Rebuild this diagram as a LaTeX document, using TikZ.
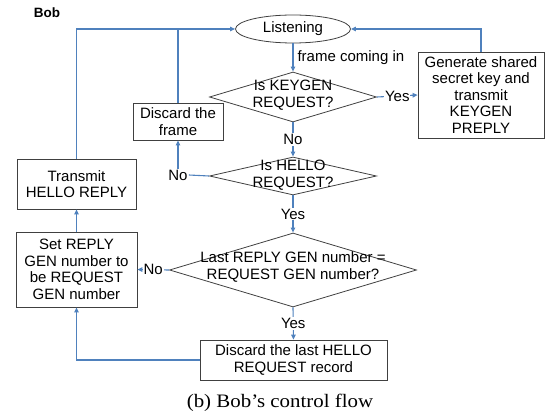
\documentclass[tikz,border=0pt]{standalone}
\usepackage{fontspec}
\setmainfont{Liberation Sans}
\newfontfamily\capfont{Liberation Serif}
\usetikzlibrary{shapes.geometric,arrows.meta}
\definecolor{flowblue}{HTML}{4F81BD}
\definecolor{boxline}{HTML}{404040}
\begin{document}
\begin{tikzpicture}[x=1pt,y=-1pt,
  every node/.style={font=\fontsize{15}{16.5}\selectfont, text=black},
  procbox/.style={draw=boxline, line width=0.8pt, rectangle, inner sep=0pt, align=center},
  decision/.style={draw=boxline, line width=0.8pt, diamond, inner sep=0pt},
  dtext/.style={align=center, inner sep=0pt},
  conn/.style={draw=flowblue, line width=1.1pt},
  arr/.style={conn, -{Triangle[length=5pt,width=4.5pt]}},
  lab/.style={fill=white, inner sep=1pt}
]
\useasboundingbox (0,0) rectangle (551,419);

\node[font=\fontsize{13.5}{15}\selectfont\bfseries] (bob) at (47,13) {Bob};

\node[draw=boxline, line width=0.8pt, ellipse, inner sep=0pt, minimum width=115, minimum height=28] (listen) at (293,29) {Listening};

\node[decision, minimum width=167, minimum height=50] (d1) at (293,97) {};
\node[dtext] (d1t) at (293,95) {Is KEYGEN\\REQUEST?};

\node[decision, minimum width=167, minimum height=38] (d2) at (293,176) {};
\node[dtext] (d2t) at (293,175) {Is HELLO\\REQUEST?};

\node[decision, minimum width=247, minimum height=74] (d3) at (293,270) {};
\node[dtext] (d3t) at (293,267) {Last REPLY GEN number =\\REQUEST GEN number?};

\node[procbox, minimum width=126, minimum height=86] (gen) at (481,95)
  {Generate shared\\secret key and\\transmit\\KEYGEN\\PREPLY};
\node[procbox, minimum width=90, minimum height=37] (discf) at (178,121.5)
  {Discard the\\frame};
\node[procbox, minimum width=119, minimum height=50] (trans) at (76.5,184)
  {Transmit\\HELLO REPLY};
\node[procbox, minimum width=121, minimum height=75] (setb) at (76.5,269.5)
  {Set REPLY\\GEN number to\\be REQUEST\\GEN number};
\node[procbox, minimum width=187, minimum height=40] (disl) at (293.5,360)
  {Discard the last HELLO\\REQUEST record};

% connectors
\draw[arr] (trans.north) |- (listen.west);
\draw[conn] (discf.north) -- (discf.north |- listen.west);
\draw[arr] (gen.north) |- (listen.east);
\draw[arr] (listen.south) -- node[right=4pt, inner sep=0pt] (fci) {frame coming in} (d1.north);
\draw[arr] (d1.east) -- node[lab] (y1) {Yes} (gen.west);
\draw[arr] (d1.south) -- node[lab] (n1) {No} (d2.north);
\node[inner sep=1pt] (n2) at (178,175) {No};
\draw[conn] (d2.west) -- (n2.east);
\draw[arr] (n2.north) -- (discf.south);
\draw[arr] (d2.south) -- node[lab] (y2) {Yes} (d3.north);
\draw[arr] (d3.west) -- node[lab] (n3) {No} (setb.east);
\draw[arr] (d3.south) -- node[lab] (y3) {Yes} (disl.north);
\draw[arr] (setb.north) -- (trans.south);
\draw[arr] (disl.west) -| (setb.south);

\node[font=\fontsize{19}{21}\selectfont\capfont] (cap) at (280,403) {\scalebox{1.1}[1]{(b) Bob’s control flow}};
\end{tikzpicture}
\end{document}
